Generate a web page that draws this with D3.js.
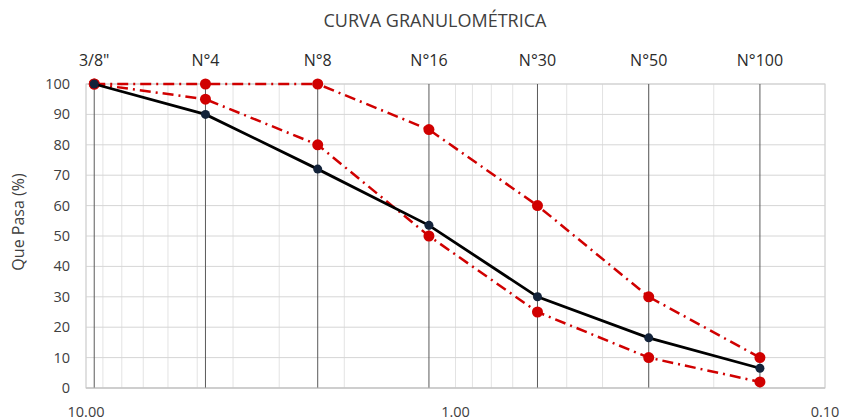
<!DOCTYPE html>
<html><head><meta charset="utf-8">
<script src="https://cdn.jsdelivr.net/npm/d3@7"></script>
<style>html,body{margin:0;padding:0;background:#fff;}svg{display:block;font-family:"Open Sans","Liberation Sans",sans-serif;}</style>
</head><body>
<svg id="c" width="842" height="420"></svg>
<script>
const sieves = ["3/8\"", "N°4", "N°8", "N°16", "N°30", "N°50", "N°100"];
const sizes = [9.5, 4.75, 2.36, 1.18, 0.6, 0.3, 0.15];
const passing = [100, 90, 72, 53.5, 30, 16.5, 6.5];
const upperLimit = [100, 100, 100, 85, 60, 30, 10];
const lowerLimit = [100, 95, 80, 50, 25, 10, 2];
const yTicks = [0,10,20,30,40,50,60,70,80,90,100];
const xTicks = [10, 1, 0.1];

const svg = d3.select("#c");
const L = 86, R = 825, T = 84, B = 388;
const x = d3.scaleLog().domain([10, 0.1]).range([L, R]);
const y = d3.scaleLinear().domain([0, 100]).range([B, T]);

// minor log gridlines
const minor = [];
[0.1, 1].forEach(d => { for (let k = 1; k <= 9; k++) minor.push(+(d * k).toFixed(3)); });
minor.push(10);
svg.append("g").selectAll("line").data(minor).join("line")
  .attr("x1", d => x(d)).attr("x2", d => x(d)).attr("y1", T).attr("y2", B)
  .attr("stroke", "#e3e3e3").attr("stroke-width", 1);

// horizontal gridlines
svg.append("g").selectAll("line").data(yTicks).join("line")
  .attr("x1", L).attr("x2", R).attr("y1", d => y(d)).attr("y2", d => y(d))
  .attr("stroke", "#d6d6d6").attr("stroke-width", 1);

// plot border
svg.append("rect").attr("x", L).attr("y", T).attr("width", R - L).attr("height", B - T)
  .attr("fill", "none").attr("stroke", "#d0d0d0");

// sieve vertical lines
svg.append("g").selectAll("line").data(sizes).join("line")
  .attr("x1", d => x(d)).attr("x2", d => x(d)).attr("y1", T).attr("y2", B)
  .attr("stroke", "#5a5a5a").attr("stroke-width", 1);

// bottom axis line
svg.append("line").attr("x1", L).attr("x2", R).attr("y1", B).attr("y2", B).attr("stroke", "#bfbfbf");

// sieve labels top
svg.append("g").selectAll("text").data(sieves).join("text")
  .attr("x", (d, i) => x(sizes[i])).attr("y", 66).attr("text-anchor", "middle")
  .attr("font-size", 16).attr("fill", "#2a2a2a").text(d => d);

// y tick labels
svg.append("g").selectAll("text").data(yTicks).join("text")
  .attr("x", 70).attr("y", d => y(d) + 5).attr("text-anchor", "end")
  .attr("font-size", 14.5).attr("fill", "#404040").text(d => d);

// x tick labels
svg.append("g").selectAll("text").data(xTicks).join("text")
  .attr("x", d => x(d)).attr("y", 417).attr("text-anchor", "middle")
  .attr("font-size", 14.5).attr("fill", "#404040").text(d => d3.format(".2f")(d));

// title
svg.append("text").attr("x", 435).attr("y", 27).attr("text-anchor", "middle")
  .attr("font-size", 18).attr("fill", "#404040").text("CURVA GRANULOMÉTRICA");

// y axis title
svg.append("text").attr("transform", "translate(24,222) rotate(-90)").attr("text-anchor", "middle")
  .attr("font-size", 16).attr("fill", "#404040").text("Que Pasa (%)");

const line = d3.line().x(d => x(d[0])).y(d => y(d[1]));
const red = "#d00000";
[upperLimit, lowerLimit].forEach(arr => {
  const pts = sizes.map((s, i) => [s, arr[i]]);
  svg.append("path").attr("d", line(pts)).attr("fill", "none").attr("stroke", red)
    .attr("stroke-width", 2.5).attr("stroke-dasharray", "11,5,2,5");
  svg.append("g").selectAll("circle").data(pts).join("circle")
    .attr("cx", d => x(d[0])).attr("cy", d => y(d[1])).attr("r", 5.5).attr("fill", red);
});

const pp = sizes.map((s, i) => [s, passing[i]]);
svg.append("path").attr("d", line(pp)).attr("fill", "none").attr("stroke", "#000").attr("stroke-width", 2.8);
svg.append("g").selectAll("circle").data(pp).join("circle")
  .attr("cx", d => x(d[0])).attr("cy", d => y(d[1])).attr("r", 4.5).attr("fill", "#13233a");
</script>
</body></html>
